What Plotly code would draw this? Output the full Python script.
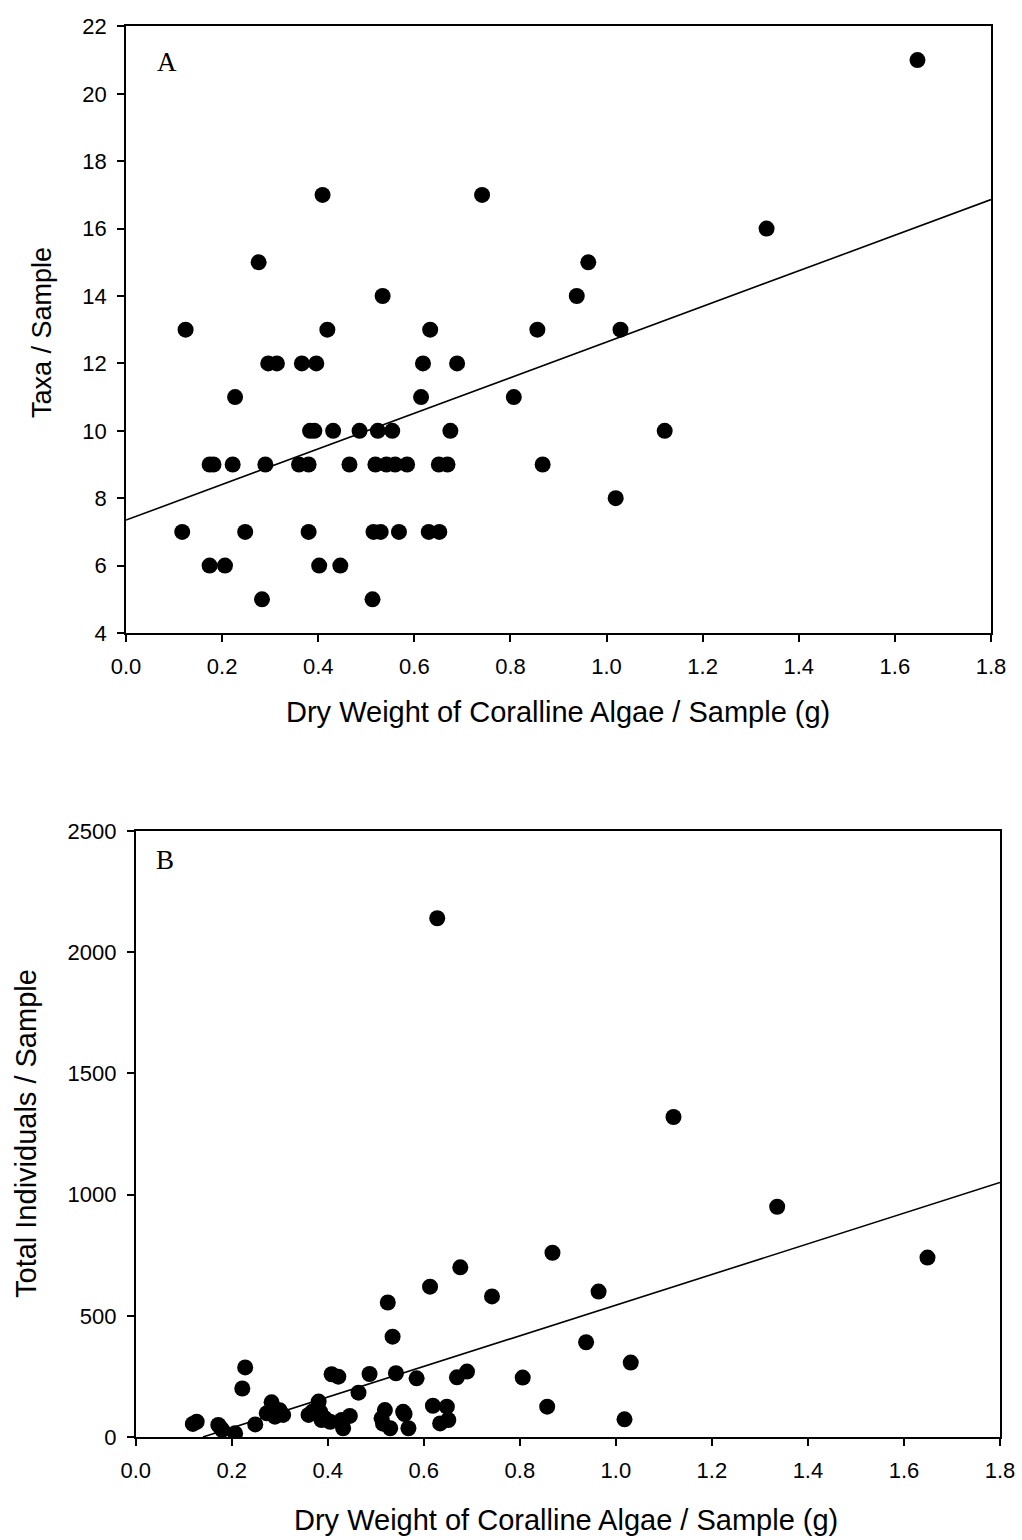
import plotly.graph_objects as go

# ---------------- Panel A data: Taxa / Sample ----------------
a_x = [0.117, 0.124, 0.174, 0.174, 0.182, 0.206, 0.222, 0.227, 0.248, 0.276,
       0.283, 0.290, 0.296, 0.314, 0.360, 0.366, 0.380, 0.380, 0.383, 0.392,
       0.396, 0.402, 0.409, 0.419, 0.431, 0.446, 0.465, 0.486, 0.513, 0.515,
       0.519, 0.524, 0.530, 0.534, 0.542, 0.554, 0.560, 0.568, 0.585, 0.614,
       0.618, 0.630, 0.633, 0.651, 0.652, 0.669, 0.675, 0.689, 0.741, 0.807,
       0.856, 0.867, 0.938, 0.962, 1.019, 1.029, 1.121, 1.333, 1.647]
a_y = [7, 13, 6, 9, 9, 6, 9, 11, 7, 15,
       5, 9, 12, 12, 9, 12, 9, 7, 10, 10,
       12, 6, 17, 13, 10, 6, 9, 10, 5, 7,
       9, 10, 7, 14, 9, 10, 9, 7, 9, 11,
       12, 7, 13, 9, 7, 9, 10, 12, 17, 11,
       13, 9, 14, 15, 8, 13, 10, 16, 21]
a_fit_x = [0.0, 1.8]
a_fit_y = [7.35, 16.86]

# ---------------- Panel B data: Total Individuals / Sample ----------------
b_x = [0.119, 0.127, 0.172, 0.176, 0.180, 0.207, 0.222, 0.228, 0.249, 0.273,
       0.283, 0.290, 0.300, 0.307, 0.360, 0.368, 0.381, 0.384, 0.387, 0.394,
       0.405, 0.408, 0.422, 0.429, 0.432, 0.446, 0.464, 0.487, 0.512, 0.515,
       0.519, 0.525, 0.530, 0.535, 0.542, 0.557, 0.560, 0.568, 0.585, 0.613,
       0.619, 0.628, 0.634, 0.648, 0.651, 0.669, 0.676, 0.690, 0.742, 0.806,
       0.857, 0.868, 0.938, 0.964, 1.018, 1.031, 1.120, 1.336, 1.649]
b_y = [54, 63, 50, 40, 30, 15, 200, 287, 52, 98,
       143, 84, 110, 91, 91, 105, 146, 105, 70, 77,
       63, 259, 249, 70, 36, 87, 183, 260, 77, 55,
       111, 555, 36, 414, 263, 104, 95, 36, 242, 620,
       129, 2140, 56, 125, 70, 246, 700, 270, 580, 245,
       125, 760, 391, 600, 73, 307, 1320, 950, 740]
b_fit_x = [0.14, 1.8]
b_fit_y = [0, 1050]

a_xticks = [0.0, 0.2, 0.4, 0.6, 0.8, 1.0, 1.2, 1.4, 1.6, 1.8]
a_yticks = [4, 6, 8, 10, 12, 14, 16, 18, 20, 22]
b_yticks = [0, 500, 1000, 1500, 2000, 2500]

W, H = 1022, 1540
FONT = "Liberation Sans, Arial, sans-serif"
SERIF = "Liberation Serif, Times New Roman, serif"

fig = go.Figure()
marker = dict(color="black", size=16, line=dict(width=0))
fig.add_trace(go.Scatter(x=a_x, y=a_y, mode="markers", marker=marker,
                         xaxis="x", yaxis="y", showlegend=False))
fig.add_trace(go.Scatter(x=a_fit_x, y=a_fit_y, mode="lines",
                         line=dict(color="black", width=1.6),
                         xaxis="x", yaxis="y", showlegend=False))
fig.add_trace(go.Scatter(x=b_x, y=b_y, mode="markers", marker=marker,
                         xaxis="x2", yaxis="y2", showlegend=False))
fig.add_trace(go.Scatter(x=b_fit_x, y=b_fit_y, mode="lines",
                         line=dict(color="black", width=1.6),
                         xaxis="x2", yaxis="y2", showlegend=False))

def px(x):
    return x / W

def py(y):
    return 1 - y / H

axis_common = dict(showgrid=False, zeroline=False, showline=True, linecolor="black",
                   linewidth=1.7, mirror=True, ticks="outside", ticklen=7,
                   tickwidth=1.5, tickcolor="black",
                   tickfont=dict(family=FONT, size=22, color="black"),
                   automargin=False, fixedrange=True)

fig.update_layout(
    width=W, height=H,
    margin=dict(l=0, r=0, t=0, b=0),
    paper_bgcolor="white", plot_bgcolor="white",
    xaxis=dict(domain=[px(126), px(991)], range=[0, 1.8], tickvals=a_xticks,
               tickformat=".1f", anchor="y", ticklabelstandoff=6, **axis_common),
    yaxis=dict(domain=[py(633), py(26.4)], range=[4, 22], tickvals=a_yticks,
               anchor="x", ticklabelstandoff=6, **axis_common),
    xaxis2=dict(domain=[px(135.7), px(1000)], range=[0, 1.8], tickvals=a_xticks,
                tickformat=".1f", anchor="y2", ticklabelstandoff=6, **axis_common),
    yaxis2=dict(domain=[py(1437), py(831)], range=[0, 2500], tickvals=b_yticks,
                anchor="x2", ticklabelstandoff=6, **axis_common),
)

title_font = dict(family=FONT, size=29, color="black")
annotations = [
    dict(text="Dry Weight of Coralline Algae / Sample (g)", x=px(558), y=py(712),
         xref="paper", yref="paper", showarrow=False, font=title_font,
         xanchor="center", yanchor="middle"),
    dict(text="Taxa / Sample", x=px(42), y=py(333), xref="paper", yref="paper",
         showarrow=False, font=dict(family=FONT, size=27, color="black"),
         textangle=-90, xanchor="center", yanchor="middle"),
    dict(text="Dry Weight of Coralline Algae / Sample (g)", x=px(566), y=py(1520),
         xref="paper", yref="paper", showarrow=False, font=title_font,
         xanchor="center", yanchor="middle"),
    dict(text="Total Individuals / Sample", x=px(26), y=py(1134), xref="paper",
         yref="paper", showarrow=False, font=title_font, textangle=-90,
         xanchor="center", yanchor="middle"),
    dict(text="A", x=px(167), y=py(62), xref="paper", yref="paper",
         showarrow=False, font=dict(family=SERIF, size=27, color="black"),
         xanchor="center", yanchor="middle"),
    dict(text="B", x=px(165), y=py(860), xref="paper", yref="paper",
         showarrow=False, font=dict(family=SERIF, size=27, color="black"),
         xanchor="center", yanchor="middle"),
]
fig.update_layout(annotations=annotations)

fig.write_html("out.html")
